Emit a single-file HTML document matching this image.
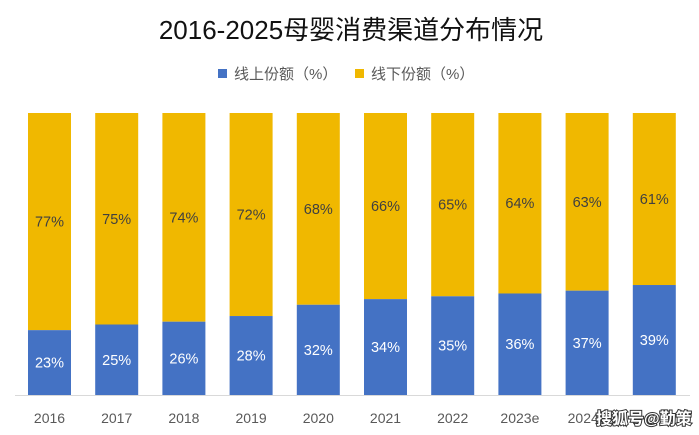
<!DOCTYPE html>
<html><head><meta charset="utf-8"><style>
body{margin:0;width:699px;height:435px;background:#fff;overflow:hidden;position:relative;font-family:"Liberation Sans","Noto Sans CJK SC",sans-serif}
</style></head><body>
<svg width="699" height="435" style="position:absolute;left:0;top:0" font-family="Liberation Sans, Noto Sans CJK SC, sans-serif">
<text x="351" y="39" text-anchor="middle" font-size="26" fill="#111">2016-2025母婴消费渠道分布情况</text>
<rect x="218" y="69" width="9" height="9" fill="#4472C4"/>
<text x="234" y="79" font-size="15" fill="#595959">线上份额（%）</text>
<rect x="355" y="69" width="9" height="9" fill="#F0B800"/>
<text x="371" y="79" font-size="15" fill="#595959">线下份额（%）</text>
<line x1="15" y1="395.5" x2="690" y2="395.5" stroke="#d9d9d9" stroke-width="1"/>
<g id="bars"></g>
<text x="596" y="424" font-size="16" font-weight="bold" fill="#fff" stroke="#333" stroke-width="2" paint-order="stroke">搜狐号@勤策</text>
</svg>
<script>
var b=[23,25,26,28,32,34,35,36,37,39],y=[77,75,74,72,68,66,65,64,63,61],l=["2016","2017","2018","2019","2020","2021","2022","2023e","2024e","2025e"];
var g=document.getElementById('bars'),h='';
for(var i=0;i<10;i++){var x=28+i*67.2,bh=282*b[i]/100,bt=395-bh;
h+='<rect x="'+x+'" y="113" width="43" height="'+(bt-113)+'" fill="#F0B800"/>';
h+='<rect x="'+x+'" y="'+bt+'" width="43" height="'+bh+'" fill="#4472C4"/>';
h+='<text x="'+(x+21.5)+'" y="'+((113+bt)/2+5)+'" text-anchor="middle" font-size="14.5" fill="#404040">'+y[i]+'%</text>';
h+='<text x="'+(x+21.5)+'" y="'+((bt+395)/2+5)+'" text-anchor="middle" font-size="14.5" fill="#fff">'+b[i]+'%</text>';
if(i<9)h+='<text x="'+(x+21.5)+'" y="423" text-anchor="middle" font-size="14" fill="#595959">'+l[i]+'</text>';}
g.innerHTML=h;
</script>
</body></html>
